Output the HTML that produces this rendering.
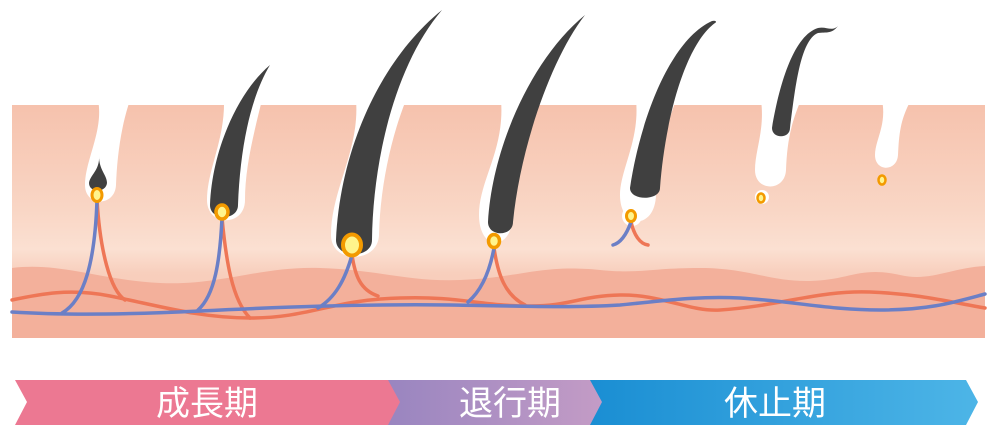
<!DOCTYPE html>
<html><head><meta charset="utf-8"><style>
html,body{margin:0;padding:0;background:#fff;}
svg{display:block}
</style></head><body>
<svg width="1000" height="441" viewBox="0 0 1000 441" xmlns="http://www.w3.org/2000/svg">
<defs>
<linearGradient id="sk" x1="0" y1="105" x2="0" y2="338" gradientUnits="userSpaceOnUse">
<stop offset="0" stop-color="#f6c2ad"/><stop offset="0.45" stop-color="#f9d6c5"/><stop offset="0.62" stop-color="#fbe0d2"/><stop offset="0.72" stop-color="#f8cfbd"/><stop offset="1" stop-color="#f5c3ae"/>
</linearGradient>
<linearGradient id="pu" x1="0" y1="0" x2="1" y2="0"><stop offset="0" stop-color="#9985c0"/><stop offset="1" stop-color="#c69dc6"/></linearGradient>
<linearGradient id="bl" x1="0" y1="0" x2="1" y2="0"><stop offset="0" stop-color="#1a8ed3"/><stop offset="1" stop-color="#4db5e7"/></linearGradient>
</defs>
<rect x="12" y="105" width="973" height="233" fill="url(#sk)"/>
<path d="M12,268 C60,262 100,280 160,283 C220,286 260,266 320,268 C380,270 410,282 460,280 C520,278 540,264 600,270 C640,274 650,268 700,268 C750,268 770,282 810,281 C850,280 860,266 900,275 C930,282 950,268 985,266 L985,338 L12,338Z" fill="#f3b09b"/>
<!-- slots & follicles -->
<g fill="#fff">
<path d="M98,100 C104,130 85,160 85,185 C85,207 115,207 116,185 C117,160 120,130 130,100Z"/>
<path d="M224,100 C225,140 207,170 207,200 C207,227 245,227 245,200 C245,170 252,140 262,100Z"/>
<path d="M356,100 C360,150 331,190 331,235 C331,264 378,264 379,235 C380,190 390,140 406,100Z"/>
<path d="M501,100 C505,150 479,180 479,215 C479,252 512,252 513,215 C514,180 525,140 541,100Z"/>
<path d="M636,100 C640,140 620,170 620,195 C620,230 655,230 656,195 C657,160 665,130 676,100Z"/>
<circle cx="632" cy="216" r="10"/>
<path d="M761,100 C765,130 755,150 755,170 C755,192 785,192 786,170 C787,145 790,125 801,100Z"/>
<circle cx="762" cy="197" r="7"/>
<path d="M882,100 C887,125 875,140 875,155 C875,172 897,172 898,155 C899,135 900,120 911,100Z"/>
</g>
<!-- vessels -->
<g fill="none" stroke-width="3.5" stroke-linecap="round">
<path stroke="#ee7656" d="M12,300 C40,294 70,288 110,296 C160,306 200,318 250,318 C310,318 330,300 400,298 C460,296 480,306 530,306 C570,306 580,296 620,295 C660,294 690,312 720,310 C780,306 820,290 870,292 C920,294 950,302 985,308"/>
<path stroke="#ee7656" d="M97,200 C100,250 110,290 125,300 M222,218 C226,260 232,300 250,318 M352,255 C355,275 360,290 378,296 M494,248 C498,275 505,295 525,305 M631,222 C634,235 640,244 648,245"/>
<path stroke="#6b7fc6" d="M12,312 C60,315 120,315 200,311 C280,307 360,304 450,305 C520,306 570,308 620,305 C670,300 700,296 740,298 C800,302 830,310 880,310 C930,310 955,302 985,294"/>
<path stroke="#6b7fc6" d="M97,200 C95,260 85,300 62,313 M222,218 C220,260 215,295 198,310 M352,255 C345,280 335,298 318,308 M494,248 C490,270 482,290 468,302 M631,222 C626,236 620,243 613,245"/>
</g>
<!-- hairs -->
<g fill="#404040">
<path d="M99,156 C100,170 90,175 89,183 C89,193 106,193 107,183 C107,175 99,170 99,156Z"/>
<path d="M210,205 C212,150 238,92 270,65 C250,98 240,150 238,205 C238,221 210,221 210,205Z"/>
<path d="M336,240 C340,150 380,60 442,10 C395,65 373,160 372,240 C372,259 336,259 336,240Z"/>
<path d="M488,222 C492,150 530,60 585,15 C550,60 520,150 513,222 C513,237 488,237 488,222Z"/>
<path d="M630,188 C640,120 670,40 712,21 C716,20 717,22 715,23 C685,45 665,120 660,188 C660,201 630,201 630,188Z"/>
<path d="M772,128 C780,80 795,35 818,28 C826,26 832,32 838,26 C832,34 826,32 818,33 C800,40 795,90 790,128 C790,139 772,139 772,128Z"/>
</g>
<!-- bulbs -->
<g fill="#fff48c" stroke="#f39a00">
<ellipse cx="97" cy="195" rx="5" ry="6.5" stroke-width="3"/>
<ellipse cx="222" cy="212" rx="6" ry="7" stroke-width="3.5"/>
<ellipse cx="352" cy="245" rx="9" ry="10.5" stroke-width="4"/>
<ellipse cx="494" cy="241" rx="5.5" ry="6.5" stroke-width="3.5"/>
<ellipse cx="631" cy="216" rx="4.5" ry="5.5" stroke-width="3"/>
<ellipse cx="761" cy="198" rx="3.5" ry="4.5" stroke-width="2.5"/>
<ellipse cx="882" cy="180" rx="3.5" ry="4.5" stroke-width="2.5"/>
</g>
<!-- banner -->
<path d="M15,380 L400,380 L412,402 L400,425 L15,425 L27,402Z" fill="#ec7892"/>
<path d="M388,380 L603,380 L615,402 L603,425 L388,425 L400,402 L388,380Z" fill="url(#pu)"/>
<path d="M590,380 L966,380 L978,402 L966,425 L590,425 L602,402Z" fill="url(#bl)"/>
<g fill="#fff" font-family="'Liberation Sans','Noto Sans CJK JP',sans-serif" font-size="34" text-anchor="middle">
<text x="207" y="415">成長期</text>
<text x="510" y="415">退行期</text>
<text x="775" y="415">休止期</text>
</g>
</svg>
</body></html>
